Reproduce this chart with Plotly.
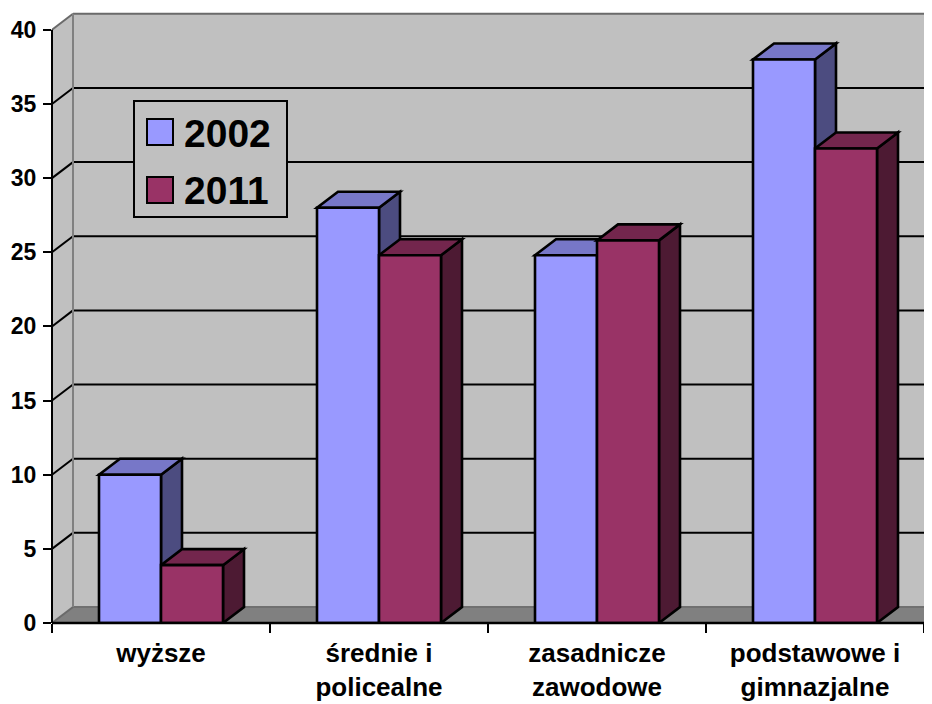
import plotly.graph_objects as go

# ---------------- data ----------------
categories = ["wyższe", "średnie i<br>policealne", "zasadnicze<br>zawodowe", "podstawowe i<br>gimnazjalne"]
series_names = ["2002", "2011"]
values_2002 = [10, 28, 24.8, 38]
values_2011 = [3.9, 24.8, 25.8, 32]
y_tick_values = [0, 5, 10, 15, 20, 25, 30, 35, 40]

# ---------------- style ----------------
front_colors = ["#9999FF", "#993366"]
top_colors = ["#7777C8", "#73264D"]
side_colors = ["#4C4C80", "#4D1A33"]
wall_color = "#C0C0C0"
floor_color = "#808080"
FONT = "Arial, Liberation Sans, sans-serif"
EDGE = 2.6

SHIFT = 8                                  # default page body margin
W, H = 932 - SHIFT, 704 - SHIFT
# plot-area box in screen pixels, converted to figure pixels
PL, PR, PT, PB = 52 - SHIFT, 932 - SHIFT, 12 - SHIFT, 623 - SHIFT
PX_PER_CAT = 218.0
PX_PER_UNIT = 14.83
XR0 = -0.5
XR1 = XR0 + (PR - PL) / PX_PER_CAT
YR1 = (PB - PT) / PX_PER_UNIT
DX = 21 / PX_PER_CAT                     # 3-D depth in data units
DY = 16 / PX_PER_UNIT
BW = 62 / PX_PER_CAT                     # bar width (category units)
YMAX = y_tick_values[-1]
NCAT = len(categories)

series = [values_2002, values_2011]
offsets = [-BW, 0.0]

fig = go.Figure()
for k, vals in enumerate(series):
    fig.add_trace(go.Bar(
        x=categories, y=vals, name=series_names[k],
        width=BW, offset=offsets[k],
        marker=dict(color=front_colors[k], line=dict(color="black", width=EDGE)),
        showlegend=False, hoverinfo="x+y+name",
    ))

shapes = []


def path(pts):
    return "M" + " L".join(f"{x},{y}" for x, y in pts) + " Z"


# walls & floor
xr_end = XR1 + 0.2
x_last = XR0 + NCAT
shapes.append(dict(type="rect", xref="x", yref="y", x0=XR0 + DX, x1=xr_end, y0=DY, y1=YMAX + DY,
                   fillcolor=wall_color, line=dict(width=0), layer="below"))
shapes.append(dict(type="path", xref="x", yref="y",
                   path=path([(XR0, 0), (XR0, YMAX), (XR0 + DX, YMAX + DY), (XR0 + DX, DY)]),
                   fillcolor=wall_color, line=dict(width=0), layer="below"))
shapes.append(dict(type="path", xref="x", yref="y",
                   path=path([(XR0, 0), (x_last, 0), (x_last + DX, DY), (XR0 + DX, DY)]),
                   fillcolor=floor_color, line=dict(width=0), layer="below"))

# gridlines on walls
for v in y_tick_values:
    if v == 0 or v == YMAX:
        col = "#6A6A6A"
    else:
        col = "black"
    shapes.append(dict(type="line", xref="x", yref="y", x0=XR0, y0=v, x1=XR0 + DX, y1=v + DY,
                       line=dict(color=col, width=2), layer="below"))
    shapes.append(dict(type="line", xref="x", yref="y", x0=XR0 + DX, y0=v + DY, x1=xr_end, y1=v + DY,
                       line=dict(color=col if v != 0 else "#707070", width=2), layer="below"))
# back-left corner edge
shapes.append(dict(type="line", xref="x", yref="y", x0=XR0 + DX, y0=DY, x1=XR0 + DX, y1=YMAX + DY,
                   line=dict(color="#808080", width=2), layer="below"))

# 3-D faces of bars
for k, vals in enumerate(series):
    for i, v in enumerate(vals):
        x0 = i + offsets[k]
        x1 = x0 + BW
        shapes.append(dict(type="path", xref="x", yref="y",
                           path=path([(x1, 0), (x1, v), (x1 + DX, v + DY), (x1 + DX, DY)]),
                           fillcolor=side_colors[k], line=dict(color="black", width=EDGE), layer="below"))
        shapes.append(dict(type="path", xref="x", yref="y",
                           path=path([(x0, v), (x1, v), (x1 + DX, v + DY), (x0 + DX, v + DY)]),
                           fillcolor=top_colors[k], line=dict(color="black", width=EDGE), layer="below"))

# axis lines (only up to the 40 mark / last category boundary)
shapes.append(dict(type="line", xref="paper", yref="y", x0=0, x1=0, y0=0, y1=YMAX,
                   line=dict(color="black", width=2), layer="above"))
shapes.append(dict(type="line", xref="x", yref="paper", x0=XR0, x1=x_last, y0=0, y1=0,
                   line=dict(color="black", width=2.5), layer="above"))


# manual legend (screen pixel -> paper)
def fx(px):
    return (px - SHIFT - PL) / (PR - PL)


def fy(py):
    return (PB - (py - SHIFT)) / (PB - PT)


shapes.append(dict(type="rect", xref="paper", yref="paper", x0=fx(134), x1=fx(287), y0=fy(217), y1=fy(101),
                   fillcolor=wall_color, line=dict(color="black", width=2), layer="above"))
annotations = []
leg_rows = [(119, 145), (177, 203)]
for k, (a, b) in enumerate(leg_rows):
    shapes.append(dict(type="rect", xref="paper", yref="paper", x0=fx(147), x1=fx(173), y0=fy(b), y1=fy(a),
                       fillcolor=front_colors[k], line=dict(color="black", width=2), layer="above"))
    annotations.append(dict(xref="paper", yref="paper", x=fx(182), y=fy((a + b) / 2 + 1),
                            xanchor="left", yanchor="middle", showarrow=False,
                            text=series_names[k],
                            font=dict(family=FONT, size=39, color="black", weight="bold")))

fig.update_layout(
    width=W, height=H,
    margin=dict(l=PL, r=W - PR, t=PT, b=H - PB, pad=0),
    paper_bgcolor="white", plot_bgcolor="white",
    barmode="overlay",
    shapes=shapes, annotations=annotations,
    showlegend=False,
    xaxis=dict(type="category", categoryorder="array", categoryarray=categories,
               range=[XR0, XR1], showgrid=False, showline=False, zeroline=False,
               ticks="outside", tickson="boundaries", ticklen=9, tickwidth=2, tickcolor="black",
               ticklabelstandoff=12,
               tickfont=dict(family=FONT, size=26, color="black", weight="bold"),
               automargin=False, fixedrange=True),
    yaxis=dict(range=[0, YR1], tickvals=y_tick_values, showgrid=False, showline=False, zeroline=False,
               ticks="outside", ticklen=8, tickwidth=2, tickcolor="black",
               ticklabelstandoff=2,
               tickfont=dict(family=FONT, size=23, color="black", weight="bold"),
               automargin=False, fixedrange=True),
)

fig.write_html("out.html")
